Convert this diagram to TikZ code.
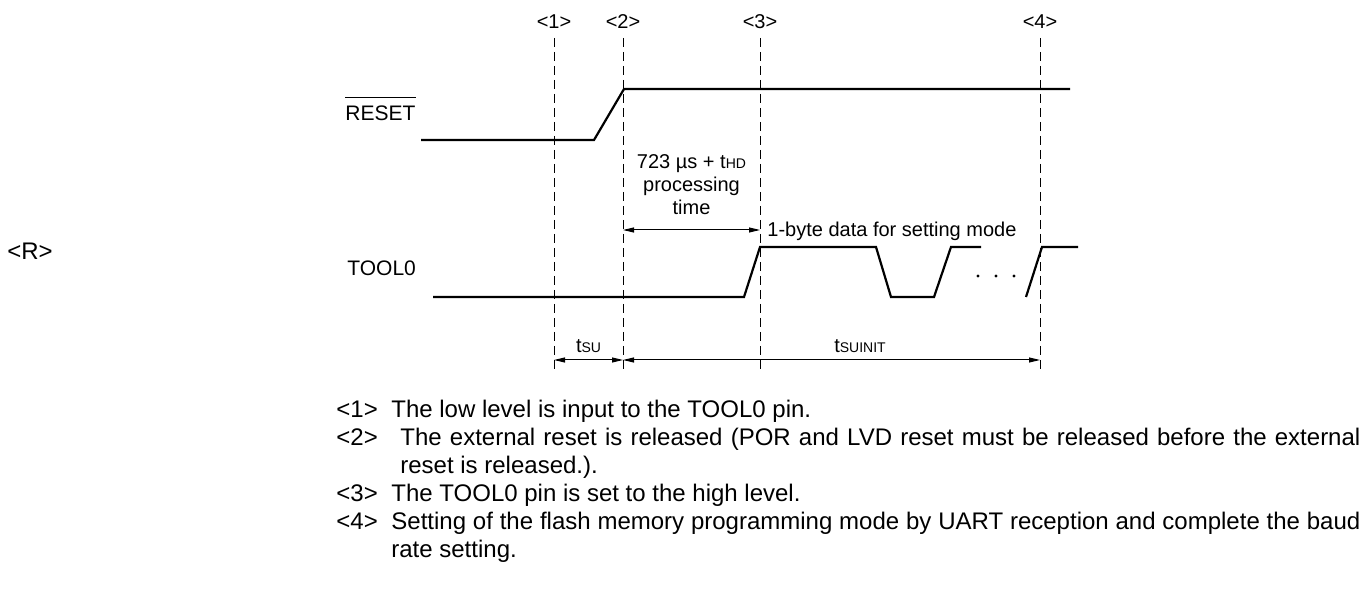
\documentclass[tikz,border=0pt]{standalone}
\usepackage{fontspec}
\setmainfont{Liberation Sans}
\usepackage{tikz}
\usetikzlibrary{arrows.meta,positioning}
\newcommand{\tsub}[1]{{\fontsize{7}{8}\selectfont #1}}

\begin{document}
\begin{tikzpicture}[x=0.5pt,y=-0.5pt,
    wave/.style={line width=1.1pt, line join=miter},
    guide/.style={line width=0.5pt, dash pattern=on 4.5pt off 2.5pt},
    dim/.style={line width=0.5pt, {Triangle[length=5.5pt,width=2.5pt]}-{Triangle[length=5.5pt,width=2.5pt]}},
    lbl/.style={font=\fontsize{10}{12}\selectfont, inner sep=0pt},
    sig/.style={font=\fontsize{10.5}{12}\selectfont, inner sep=0pt, anchor=base west},
    note/.style={font=\fontsize{12}{14}\selectfont, inner sep=0pt, anchor=base west}]
  \useasboundingbox (0,0) rectangle (1365,603);
  \foreach \k/\x in {1/554,2/623,3/760,4/1040} {
    \node[lbl, anchor=base] (mark\k) at (\x,29) {<\k>};
    \coordinate (top\k) at (\x,38);
    \coordinate (bot\k) at (\x,373);
    \draw[guide] (top\k) -- (bot\k);
  }
  \node[sig, font=\fontsize{12}{14}\selectfont] (rmark) at (7,260) {<R>};
  \node[sig] (rst) at (345,121) {RESET};
  \draw[line width=0.5pt] ([yshift=4pt]rst.north west) -- ([yshift=4pt]rst.north east);
  \draw[wave] (421,140) -- (594,140) -- (624,89) -- (1070,89);
  \node[sig] (tool) at (347,276) {TOOL0};
  \draw[wave] (433,297) -- (744,297) -- (760,247) -- (876,247) -- (891,297) -- (934,297) -- (951,247) -- (981,247);
  \foreach \x in {978,996,1014} \fill (\x,276) circle (0.8pt);
  \draw[wave] (1026,297) -- (1042,247) -- (1078,247);
  \coordinate (p2) at (623,230);
  \coordinate (p3) at (760,230);
  \draw[dim] (p2) -- (p3);
  \node[lbl, anchor=base] (thd) at (691.5,169) {723 µs + t\tsub{HD}};
  \node[lbl, anchor=base] (proc) at (691.5,192) {processing};
  \node[lbl, anchor=base] (ptime) at (691.5,215) {time};
  \node[lbl, anchor=base west] (byte) at (767,237) {1-byte data for setting mode};
  \coordinate (s1) at (554,360);
  \coordinate (s2) at (623,360);
  \coordinate (s4) at (1040,360);
  \draw[dim] (s1) -- (s2);
  \draw[dim] (s2) -- (s4);
  \node[lbl, anchor=base] (tsu) at (588.5,353) {t\tsub{SU}};
  \node[lbl, anchor=base] (tsuinit) at (860,353) {t\tsub{SUINIT}};
  \foreach \k/\y in {1/418,2/446,3/502,4/530}
    \node[note] (n\k) at (336,\y) {<\k>};
  \node[note] (t1) at (391,418) {The low level is input to the TOOL0 pin.};
  \node[note] (t2) at (400,446) {\makebox[480pt][s]{The external reset is released (POR and LVD reset must be released before the external}};
  \node[note] (t2b) at (400,474) {reset is released.).};
  \node[note] (t3) at (391,502) {The TOOL0 pin is set to the high level.};
  \node[note] (t4) at (391,530) {\makebox[484.5pt][s]{Setting of the flash memory programming mode by UART reception and complete the baud}};
  \node[note] (t4b) at (391,558) {rate setting.};
\end{tikzpicture}
\end{document}
